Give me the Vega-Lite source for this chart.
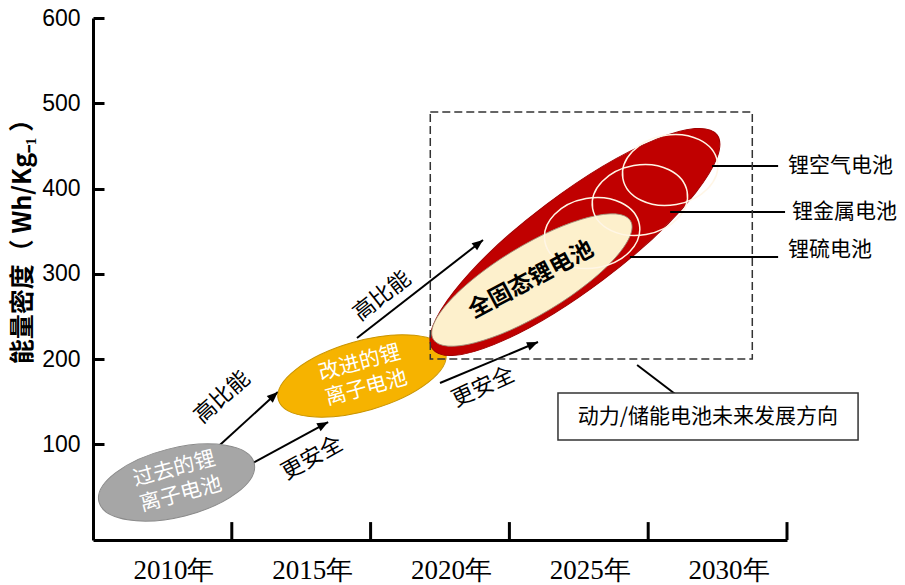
{
  "$schema": "https://vega.github.io/schema/vega-lite/v6.json",
  "width": 694,
  "height": 522,
  "autosize": "none",
  "padding": {"left": 93, "top": 18, "right": 118, "bottom": 45},
  "background": "#ffffff",
  "config": {
    "view": {"stroke": null},
    "axis": {"grid": false, "domainColor": "#000000", "domainWidth": 3, "tickColor": "#000000", "labelColor": "#000000", "titleColor": "#000000"}
  },
  "datasets": {
    "ticks": [
      {"x": 2012.5, "y": -12, "y2": 9},
      {"x": 2017.5, "y": -12, "y2": 9},
      {"x": 2022.5, "y": -12, "y2": 9},
      {"x": 2027.5, "y": -12, "y2": 9},
      {"x": 2032.5, "y": -12, "y2": 9}
    ],
    "ellipses": [
      {"name": "过去的锂离子电池", "x": 2010.51, "y": 55.4},
      {"name": "改进的锂离子电池", "x": 2017.19, "y": 180.3},
      {"name": "未来电池", "x": 2024.86, "y": 337.4},
      {"name": "全固态锂电池", "x": 2023.31, "y": 292.8},
      {"name": "锂硫电池", "x": 2025.48, "y": 347.9},
      {"name": "锂金属电池", "x": 2027.2, "y": 386.6},
      {"name": "锂空气电池", "x": 2028.29, "y": 421.8}
    ],
    "bubbleText": [
      {"kind": "past", "text": "过去的锂\n离子电池", "x": 2010.55, "y": 56.0},
      {"kind": "improved", "text": "改进的锂\n离子电池", "x": 2017.23, "y": 180.5},
      {"kind": "solid", "text": "全固态锂电池", "x": 2023.28, "y": 292.8}
    ],
    "arrows": [
      {"id": "a1", "x": 2012.07, "y": 99.4, "x2": 2014.16, "y2": 161.5},
      {"id": "a2", "x": 2013.26, "y": 78.3, "x2": 2015.97, "y2": 126.3},
      {"id": "a3", "x": 2017.01, "y": 224.8, "x2": 2021.55, "y2": 339.7},
      {"id": "a4", "x": 2020.0, "y": 172.1, "x2": 2023.53, "y2": 220.1}
    ],
    "heads": [
      {"id": "a1", "x": 2014.16, "y": 161.5},
      {"id": "a2", "x": 2015.97, "y": 126.3},
      {"id": "a3", "x": 2021.55, "y": 339.7},
      {"id": "a4", "x": 2023.53, "y": 220.1}
    ],
    "arrowText": [
      {"id": "a1", "text": "高比能", "x": 2012.15, "y": 155.6},
      {"id": "a2", "text": "更安全", "x": 2015.39, "y": 84.1},
      {"id": "a3", "text": "高比能", "x": 2017.91, "y": 274.1},
      {"id": "a4", "text": "更安全", "x": 2021.55, "y": 167.4}
    ],
    "leaders": [
      {"x": 2029.8, "y": 426.5, "x2": 2032.18, "y2": 426.5},
      {"x": 2028.29, "y": 372.6, "x2": 2032.43, "y2": 372.6},
      {"x": 2026.84, "y": 319.8, "x2": 2032.18, "y2": 319.8},
      {"x": 2027.1, "y": 193.2, "x2": 2028.47, "y2": 159.2}
    ],
    "sideText": [
      {"text": "锂空气电池", "x": 2032.54, "y": 426.5},
      {"text": "锂金属电池", "x": 2032.68, "y": 372.6},
      {"text": "锂硫电池", "x": 2032.54, "y": 328.0}
    ],
    "frames": [
      {"id": "dash", "x": 2019.65, "y": 200.2, "x2": 2031.25, "y2": 489.8},
      {"id": "box", "x": 2024.25, "y": 105.2, "x2": 2035.06, "y2": 160.3}
    ],
    "notes": [
      {"text": "动力/储能电池未来发展方向", "x": 2029.65, "y": 132.2}
    ]
  },
  "encoding": {
    "x": {
      "field": "x", "type": "quantitative",
      "scale": {"domain": [2007.5, 2032.5], "nice": false, "zero": false},
      "axis": {"values": [2010, 2015, 2020, 2025, 2030], "labelExpr": "datum.value + '年'", "ticks": false, "title": null,
               "labelFont": "Liberation Sans Narrow", "labelFontSize": 27, "labelPadding": 17, "labelOffset": 11, "labelBaseline": "top", "labelFlush": false}
    },
    "y": {
      "field": "y", "type": "quantitative",
      "scale": {"domain": [-12, 600], "nice": false, "zero": false},
      "axis": {"values": [100, 200, 300, 400, 500, 600], "tickSize": -11, "tickWidth": 3, "labelPadding": 24,
               "labelFont": "Liberation Sans", "labelFontSize": 23, "labelFlush": false,
               "title": "能量密度（ Wh/Kg₋₁ ）", "titleFont": "Noto Sans CJK SC", "titleFontSize": 25, "titleFontWeight": "bold",
               "titleX": -58, "titleY": 217}
    }
  },
  "layer": [
    {"data": {"name": "ticks"}, "mark": {"type": "rule", "color": "#000000", "strokeWidth": 3}, "encoding": {"y2": {"field": "y2"}}},
    {"data": {"name": "arrows"}, "mark": {"type": "rule", "color": "#000000", "strokeWidth": 2}, "encoding": {"x2": {"field": "x2"}, "y2": {"field": "y2"}}},
    {"data": {"name": "ellipses"}, "transform": [{"filter": "datum.name === '过去的锂离子电池'"}],
     "mark": {"type": "point", "shape": "M -1 0 A 1 0.43 0 1 1 1 0 A 1 0.43 0 1 1 -1 0 Z", "size": 25600, "angle": -14, "filled": true, "fill": "#a6a6a6", "stroke": "#8a8a8a", "strokeWidth": 1, "opacity": 1}},
    {"data": {"name": "ellipses"}, "transform": [{"filter": "datum.name === '改进的锂离子电池'"}],
     "mark": {"type": "point", "shape": "M -1 0 A 1 0.4 0 1 1 1 0 A 1 0.4 0 1 1 -1 0 Z", "size": 30276, "angle": -16, "filled": true, "fill": "#f6b300", "stroke": "#c99400", "strokeWidth": 1, "opacity": 1}},
    {"data": {"name": "ellipses"}, "transform": [{"filter": "datum.name === '未来电池'"}],
     "mark": {"type": "point", "shape": "M -1 0 A 1 0.265 0 1 1 1 0 A 1 0.265 0 1 1 -1 0 Z", "size": 126736, "angle": -37, "filled": true, "fill": "#c00000", "stroke": "#a00000", "strokeWidth": 1, "opacity": 1}},
    {"data": {"name": "ellipses"}, "transform": [{"filter": "datum.name === '全固态锂电池'"}],
     "mark": {"type": "point", "shape": "M -1 0 A 1 0.3 0 1 1 1 0 A 1 0.3 0 1 1 -1 0 Z", "size": 52900, "angle": -31, "filled": true, "fill": "#fdf0cc", "stroke": "#9c8f78", "strokeWidth": 0.8, "opacity": 1}},
    {"data": {"name": "ellipses"}, "transform": [{"filter": "indexof(['锂硫电池','锂金属电池','锂空气电池'], datum.name) >= 0"}],
     "mark": {"type": "point", "shape": "M -1 0 A 1 0.73 0 1 1 1 0 A 1 0.73 0 1 1 -1 0 Z", "size": 9216, "angle": -10, "filled": false, "stroke": "#fff6e6", "strokeWidth": 1.5, "opacity": 1}},
    {"data": {"name": "bubbleText"}, "transform": [{"filter": "datum.kind !== 'solid'"}],
     "mark": {"type": "text", "color": "#ffffff", "font": "Noto Sans CJK SC", "fontSize": 21, "angle": -15, "lineBreak": "\n", "lineHeight": 26, "align": "center", "baseline": "middle", "dy": -13},
     "encoding": {"text": {"field": "text"}}},
    {"data": {"name": "bubbleText"}, "transform": [{"filter": "datum.kind === 'solid'"}],
     "mark": {"type": "text", "color": "#000000", "font": "Noto Sans CJK SC", "fontSize": 23, "fontWeight": "bold", "angle": -28, "align": "center", "baseline": "middle"},
     "encoding": {"text": {"field": "text"}}},
    {"data": {"name": "heads"}, "transform": [{"filter": "datum.id === 'a1'"}],
     "mark": {"type": "point", "shape": "M 0 0 L 0.45 1.1 L -0.45 1.1 Z", "size": 400, "angle": 47.6, "filled": true, "color": "#000000", "opacity": 1}},
    {"data": {"name": "heads"}, "transform": [{"filter": "datum.id === 'a2'"}],
     "mark": {"type": "point", "shape": "M 0 0 L 0.45 1.1 L -0.45 1.1 Z", "size": 400, "angle": 61.3, "filled": true, "color": "#000000", "opacity": 1}},
    {"data": {"name": "heads"}, "transform": [{"filter": "datum.id === 'a3'"}],
     "mark": {"type": "point", "shape": "M 0 0 L 0.45 1.1 L -0.45 1.1 Z", "size": 400, "angle": 52.1, "filled": true, "color": "#000000", "opacity": 1}},
    {"data": {"name": "heads"}, "transform": [{"filter": "datum.id === 'a4'"}],
     "mark": {"type": "point", "shape": "M 0 0 L 0.45 1.1 L -0.45 1.1 Z", "size": 400, "angle": 67.3, "filled": true, "color": "#000000", "opacity": 1}},
    {"data": {"name": "arrowText"}, "transform": [{"filter": "datum.id === 'a1'"}],
     "mark": {"type": "text", "color": "#000000", "font": "Noto Sans CJK SC", "fontSize": 22, "angle": -42, "align": "center", "baseline": "middle"},
     "encoding": {"text": {"field": "text"}}},
    {"data": {"name": "arrowText"}, "transform": [{"filter": "datum.id === 'a2'"}],
     "mark": {"type": "text", "color": "#000000", "font": "Noto Sans CJK SC", "fontSize": 22, "angle": -29, "align": "center", "baseline": "middle"},
     "encoding": {"text": {"field": "text"}}},
    {"data": {"name": "arrowText"}, "transform": [{"filter": "datum.id === 'a3'"}],
     "mark": {"type": "text", "color": "#000000", "font": "Noto Sans CJK SC", "fontSize": 22, "angle": -38, "align": "center", "baseline": "middle"},
     "encoding": {"text": {"field": "text"}}},
    {"data": {"name": "arrowText"}, "transform": [{"filter": "datum.id === 'a4'"}],
     "mark": {"type": "text", "color": "#000000", "font": "Noto Sans CJK SC", "fontSize": 22, "angle": -25, "align": "center", "baseline": "middle"},
     "encoding": {"text": {"field": "text"}}},
    {"data": {"name": "leaders"}, "mark": {"type": "rule", "color": "#000000", "strokeWidth": 2}, "encoding": {"x2": {"field": "x2"}, "y2": {"field": "y2"}}},
    {"data": {"name": "frames"}, "transform": [{"filter": "datum.id === 'dash'"}],
     "mark": {"type": "rect", "filled": false, "fill": null, "stroke": "#333333", "strokeWidth": 1.5, "strokeDash": [8, 4]},
     "encoding": {"x2": {"field": "x2"}, "y2": {"field": "y2"}}},
    {"data": {"name": "frames"}, "transform": [{"filter": "datum.id === 'box'"}],
     "mark": {"type": "rect", "fill": "#ffffff", "stroke": "#333333", "strokeWidth": 1.5},
     "encoding": {"x2": {"field": "x2"}, "y2": {"field": "y2"}}},
    {"data": {"name": "sideText"},
     "mark": {"type": "text", "color": "#000000", "font": "Noto Sans CJK SC", "fontSize": 21, "align": "left", "baseline": "middle"},
     "encoding": {"text": {"field": "text"}}},
    {"data": {"name": "notes"},
     "mark": {"type": "text", "color": "#000000", "font": "Noto Sans CJK SC", "fontSize": 21, "align": "center", "baseline": "middle"},
     "encoding": {"text": {"field": "text"}}}
  ]
}
